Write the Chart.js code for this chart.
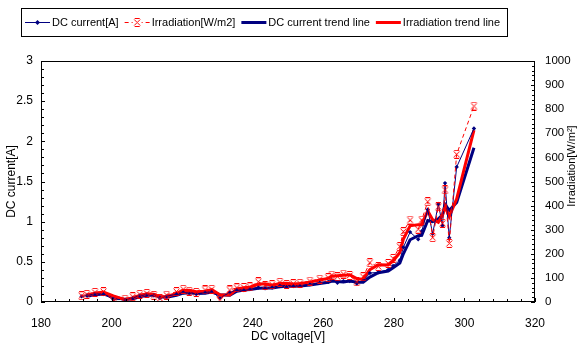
<!DOCTYPE html>
<html>
<head>
<meta charset="utf-8">
<script src="https://cdn.jsdelivr.net/npm/chart.js@4.4.1/dist/chart.umd.min.js"></script>
<style>
  html, body { margin: 0; padding: 0; background: #fff; }
  #wrap { width: 577px; height: 344px; }
</style>
</head>
<body>
<div id="wrap"><canvas id="pvChart" width="577" height="344"></canvas></div>
<script>
// DC voltage [V] of each measurement
const voltage = [191.5, 193, 195.3, 197.7, 200.5, 203.8, 206, 208, 210, 212,
  213.7, 215.6, 218.4, 220.3, 222, 224, 226.5, 228.4, 230.7, 233.5,
  235.5, 237.5, 239.2, 241.6, 243.5, 245.5, 247.7, 249.6, 251.5, 253.4,
  256.2, 259, 261.4, 262.4, 264, 265.7, 267.5, 269.5, 271.3, 273.2,
  275.6, 278.4, 279.8, 281.7, 282.7, 284.6, 286.9, 287.9, 289.6, 291,
  292.6, 293.8, 294.5, 295.7, 297.8, 302.7];

// DC current [A]
const dcCurrent = [0.07, 0.08, 0.10, 0.10, 0.03, 0.03, 0.05, 0.08, 0.09, 0.08,
  0.05, 0.07, 0.10, 0.12, 0.11, 0.10, 0.12, 0.13, 0.05, 0.12,
  0.15, 0.15, 0.16, 0.18, 0.17, 0.18, 0.20, 0.19, 0.20, 0.20,
  0.22, 0.24, 0.25, 0.27, 0.24, 0.26, 0.26, 0.23, 0.26, 0.36,
  0.37, 0.40, 0.45, 0.52, 0.68, 0.87, 0.78, 0.88, 1.15, 0.85,
  1.22, 0.95, 1.48, 0.80, 1.68, 2.16];

// Irradiation [W/m2]
const irradiation = [26, 32, 40, 43, 8, 12, 22, 32, 36, 28,
  15, 29, 43, 53, 45, 40, 50, 53, 8, 50,
  59, 60, 63, 84, 68, 72, 82, 73, 76, 78,
  87, 95, 101, 112, 105, 116, 110, 84, 105, 163,
  147, 160, 181, 230, 292, 340, 302, 340, 416, 267,
  395, 327, 465, 243, 613, 813];

// trend lines (2-point moving average, first point has none)
const currentTrend = [null, 0.075, 0.09, 0.10, 0.065, 0.03, 0.04, 0.065, 0.085, 0.085,
  0.065, 0.06, 0.085, 0.11, 0.115, 0.105, 0.11, 0.125, 0.09, 0.085,
  0.135, 0.15, 0.155, 0.17, 0.175, 0.175, 0.19, 0.195, 0.195, 0.20,
  0.21, 0.23, 0.245, 0.26, 0.255, 0.25, 0.26, 0.245, 0.245, 0.31,
  0.365, 0.385, 0.425, 0.485, 0.60, 0.775, 0.825, 0.83, 1.015, 1.00,
  1.035, 1.085, 1.215, 1.14, 1.24, 1.92];

const irradiationTrend = [null, 29, 36, 41.5, 25.5, 10, 17, 27, 34, 32,
  21.5, 22, 36, 48, 49, 42.5, 45, 51.5, 30.5, 29,
  54.5, 59.5, 61.5, 73.5, 76, 70, 77, 77.5, 74.5, 77,
  82.5, 91, 98, 106.5, 108.5, 110.5, 113, 97, 94.5, 134,
  155, 153.5, 170.5, 205.5, 261, 316, 321, 321, 378, 341.5,
  331, 361, 396, 354, 428, 713];

const NAVY = '#000080';
const RED = '#ff0000';
const FONT = "'Liberation Sans', Arial, sans-serif";

function points(ys) {
  return voltage.map((v, i) => ({ x: v, y: ys[i] }));
}

// red "x" marker with small caps top and bottom
function starMark() {
  const c = document.createElement('canvas');
  c.width = 9; c.height = 9;
  const g = c.getContext('2d');
  g.strokeStyle = RED;
  g.lineWidth = 1;
  g.beginPath();
  g.moveTo(1.5, 1.5); g.lineTo(7.5, 7.5);
  g.moveTo(7.5, 1.5); g.lineTo(1.5, 7.5);
  g.moveTo(2, 0.5); g.lineTo(7, 0.5);
  g.moveTo(2, 8.5); g.lineTo(7, 8.5);
  g.stroke();
  return c;
}
const star = starMark();

// plot frame plus inward tick marks
const frameTicks = {
  id: 'frameTicks',
  afterDraw(chart) {
    const { ctx, chartArea: a, scales } = chart;
    ctx.save();
    ctx.strokeStyle = '#000';
    ctx.lineWidth = 1;
    ctx.strokeRect(Math.round(a.left) + 0.5, Math.round(a.top) + 0.5,
      Math.round(a.right - a.left) - 1, Math.round(a.bottom - a.top) - 1);

    ctx.beginPath();
    for (let v = 180; v <= 320; v += 4) {
      const px = Math.round(scales.x.getPixelForValue(v)) + 0.5;
      const len = (v - 180) % 20 === 0 ? 4 : 3;
      ctx.moveTo(px, a.bottom);
      ctx.lineTo(px, a.bottom - len);
    }
    for (let k = 0; k <= 30; k++) {
      const py = Math.round(scales.y.getPixelForValue(k / 10)) + 0.5;
      const len = k % 5 === 0 ? 4 : 3;
      ctx.moveTo(a.left, py);
      ctx.lineTo(a.left + len, py);
    }
    for (let v = 0; v <= 1000; v += 20) {
      const py = Math.round(scales.y1.getPixelForValue(v)) + 0.5;
      const len = v % 100 === 0 ? 4 : 3;
      ctx.moveTo(a.right, py);
      ctx.lineTo(a.right - len, py);
    }
    ctx.stroke();

    // right axis title reads bottom to top
    ctx.fillStyle = '#000';
    ctx.font = '11px ' + FONT;
    ctx.textAlign = 'center';
    ctx.textBaseline = 'middle';
    ctx.translate(572, 166);
    ctx.rotate(-Math.PI / 2);
    ctx.fillText('Irradiation[W/m²]', 0, 0);
    ctx.restore();
  }
};

// boxed legend across the top
const legendBox = {
  id: 'legendBox',
  afterDraw(chart) {
    const ctx = chart.ctx;
    const items = [
      { text: 'DC current[A]', color: NAVY, width: 1, mark: 'diamond' },
      { text: 'Irradiation[W/m2]', color: RED, width: 1, dash: [4, 3], mark: 'star' },
      { text: 'DC current trend line', color: NAVY, width: 3 },
      { text: 'Irradiation trend line', color: RED, width: 3 }
    ];
    ctx.save();
    ctx.strokeStyle = '#000';
    ctx.lineWidth = 1;
    ctx.strokeRect(21.5, 8.5, 486, 28);
    ctx.font = '11px ' + FONT;
    ctx.textBaseline = 'middle';
    const y = 22.5;
    let x = 25;
    items.forEach(it => {
      ctx.strokeStyle = it.color;
      ctx.lineWidth = it.width;
      ctx.setLineDash(it.dash || []);
      ctx.beginPath();
      ctx.moveTo(x, y);
      ctx.lineTo(x + 25, y);
      ctx.stroke();
      ctx.setLineDash([]);
      if (it.mark === 'diamond') {
        ctx.fillStyle = NAVY;
        ctx.beginPath();
        ctx.moveTo(x + 12.5, y - 2.5);
        ctx.lineTo(x + 15, y);
        ctx.lineTo(x + 12.5, y + 2.5);
        ctx.lineTo(x + 10, y);
        ctx.closePath();
        ctx.fill();
      } else if (it.mark === 'star') {
        ctx.fillStyle = '#fff';
        ctx.fillRect(x + 8, y - 4, 9, 9);
        ctx.drawImage(star, x + 8, y - 4.5);
      }
      ctx.fillStyle = '#000';
      ctx.fillText(it.text, x + 27, y);
      x += 27 + ctx.measureText(it.text).width + 6;
    });
    ctx.restore();
  }
};

const tickFont = { family: FONT, size: 12 };

new Chart(document.getElementById('pvChart'), {
  type: 'line',
  data: {
    datasets: [
      {
        label: 'Irradiation[W/m2]',
        data: points(irradiation),
        yAxisID: 'y1',
        borderColor: RED,
        borderWidth: 1,
        borderDash: [4, 3],
        pointStyle: star,
        pointRadius: 4,
        order: 1
      },
      {
        label: 'DC current[A]',
        data: points(dcCurrent),
        yAxisID: 'y',
        borderColor: NAVY,
        backgroundColor: NAVY,
        borderWidth: 1,
        pointStyle: 'rectRot',
        pointRadius: 2.2,
        pointBorderWidth: 0,
        order: 2
      },
      {
        label: 'Irradiation trend line',
        data: points(irradiationTrend),
        yAxisID: 'y1',
        borderColor: RED,
        borderWidth: 3,
        pointRadius: 0,
        order: 3
      },
      {
        label: 'DC current trend line',
        data: points(currentTrend),
        yAxisID: 'y',
        borderColor: NAVY,
        borderWidth: 3,
        pointRadius: 0,
        order: 4
      }
    ]
  },
  options: {
    responsive: false,
    animation: false,
    layout: { padding: { top: 61, left: 0, right: 0, bottom: 0 } },
    plugins: {
      legend: { display: false },
      tooltip: { enabled: false }
    },
    scales: {
      x: {
        type: 'linear',
        min: 180,
        max: 320,
        grid: { display: false, drawTicks: false },
        border: { display: false },
        ticks: { stepSize: 20, padding: 14, color: '#000', font: tickFont },
        title: {
          display: true,
          text: 'DC voltage[V]',
          color: '#000',
          font: tickFont,
          padding: { top: 0, bottom: 0 }
        },
        afterFit: s => { s.height = 42; }
      },
      y: {
        position: 'left',
        min: 0,
        max: 3,
        grid: { display: false, drawTicks: false },
        border: { display: false },
        ticks: {
          stepSize: 0.5,
          padding: 8,
          color: '#000',
          font: tickFont,
          callback: v => String(v)
        },
        title: {
          display: true,
          text: 'DC current[A]',
          color: '#000',
          font: tickFont,
          padding: { top: 4, bottom: 0 }
        },
        afterFit: s => { s.width = 41; }
      },
      y1: {
        position: 'right',
        min: 0,
        max: 1000,
        grid: { display: false, drawTicks: false },
        border: { display: false },
        ticks: {
          stepSize: 100,
          padding: 10,
          color: '#000',
          font: { family: FONT, size: 11.5 },
          callback: v => String(v)
        },
        afterFit: s => { s.width = 42; }
      }
    }
  },
  plugins: [frameTicks, legendBox]
});
</script>
</body>
</html>
